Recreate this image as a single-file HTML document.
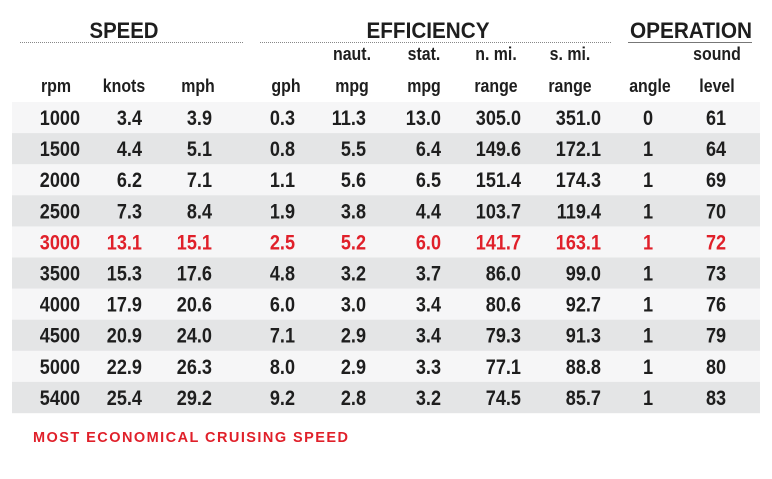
<!DOCTYPE html>
<html><head><meta charset="utf-8"><style>
html,body{margin:0;padding:0;background:#fff}
svg{display:block}
text{font-family:"Liberation Sans",sans-serif;font-weight:bold}
</style></head><body>
<svg id="tbl" width="772" height="479" viewBox="0 0 772 479" xmlns="http://www.w3.org/2000/svg">
<g font-size="22" fill="#1e1e1e" text-anchor="middle">
<text x="124" y="38" textLength="69" lengthAdjust="spacingAndGlyphs">SPEED</text>
<text x="428" y="38" textLength="123" lengthAdjust="spacingAndGlyphs">EFFICIENCY</text>
<text x="691" y="38" textLength="122" lengthAdjust="spacingAndGlyphs">OPERATION</text>
</g>
<line x1="20" y1="42.5" x2="243" y2="42.5" stroke="#888" stroke-dasharray="1,1"/>
<line x1="260" y1="42.5" x2="612" y2="42.5" stroke="#888" stroke-dasharray="1,1"/>
<line x1="628" y1="42.5" x2="752" y2="42.5" stroke="#777"/>
<g id="body"></g>
<text x="33" y="442" font-size="14.5" fill="#e0202a" textLength="315" lengthAdjust="spacing">MOST ECONOMICAL CRUISING SPEED</text>
</svg>
<script>
const headTop = ["", "", "", "", "naut.", "stat.", "n. mi.", "s. mi.", "", "sound"];
const headBottom = ["rpm", "knots", "mph", "gph", "mpg", "mpg", "range", "range", "angle", "level"];
const rpm = ["1000","1500","2000","2500","3000","3500","4000","4500","5000","5400"];
const knots = ["3.4","4.4","6.2","7.3","13.1","15.3","17.9","20.9","22.9","25.4"];
const mph = ["3.9","5.1","7.1","8.4","15.1","17.6","20.6","24.0","26.3","29.2"];
const gph = ["0.3","0.8","1.1","1.9","2.5","4.8","6.0","7.1","8.0","9.2"];
const nmpg = ["11.3","5.5","5.6","3.8","5.2","3.2","3.0","2.9","2.9","2.8"];
const smpg = ["13.0","6.4","6.5","4.4","6.0","3.7","3.4","3.4","3.3","3.2"];
const nrange = ["305.0","149.6","151.4","103.7","141.7","86.0","80.6","79.3","77.1","74.5"];
const srange = ["351.0","172.1","174.3","119.4","163.1","99.0","92.7","91.3","88.8","85.7"];
const angle = ["0","1","1","1","1","1","1","1","1","1"];
const sound = ["61","64","69","70","72","73","76","79","80","83"];
const highlightRow = 4;

const cols = [rpm,knots,mph,gph,nmpg,smpg,nrange,srange,angle,sound];
const colX = [80,142,212,295,366,441,521,601,648,716];
const colAnchor = ["end","end","end","end","end","end","end","end","middle","middle"];
const colCenter = [56,124,198,286,352,424,496,570,650,717];
const NS="http://www.w3.org/2000/svg";
const body=document.getElementById('body');
function mk(tag,attrs){const e=document.createElementNS(NS,tag);for(const k in attrs)e.setAttribute(k,attrs[k]);return e;}
function squeeze(t,f){const w=t.getComputedTextLength();if(w>0){t.setAttribute('textLength',(w*f).toFixed(1));t.setAttribute('lengthAdjust','spacingAndGlyphs');}}
const rowTop=102, rowH=31.1;
for(let c=0;c<headBottom.length;c++){
  if(headTop[c]){
    const t=mk('text',{x:colCenter[c],y:60,'text-anchor':'middle','font-size':18.5,fill:'#1e1e1e'});
    
    
    t.textContent=headTop[c];body.appendChild(t);squeeze(t,0.86);
  }
  const t=mk('text',{x:colCenter[c],y:92,'text-anchor':'middle','font-size':18.5,fill:'#1e1e1e'});
  
  
  t.textContent=headBottom[c];body.appendChild(t);squeeze(t,0.86);
}
for(let r=0;r<rpm.length;r++){
  const y=rowTop+r*rowH;
  const bg=mk('rect',{x:12,y:y,width:748,height:rowH+0.2,fill:r%2?'#e4e5e6':'#f6f6f7'});
  
  
  body.appendChild(bg);
  for(let c=0;c<cols.length;c++){
    const t=mk('text',{x:colX[c],y:y+23,'text-anchor':colAnchor[c],'font-size':21,fill:r===highlightRow?'#e0202a':'#1e1e1e'});
    
    
    t.textContent=cols[c][r];body.appendChild(t);squeeze(t,0.86);
  }
}
</script>
</body></html>
